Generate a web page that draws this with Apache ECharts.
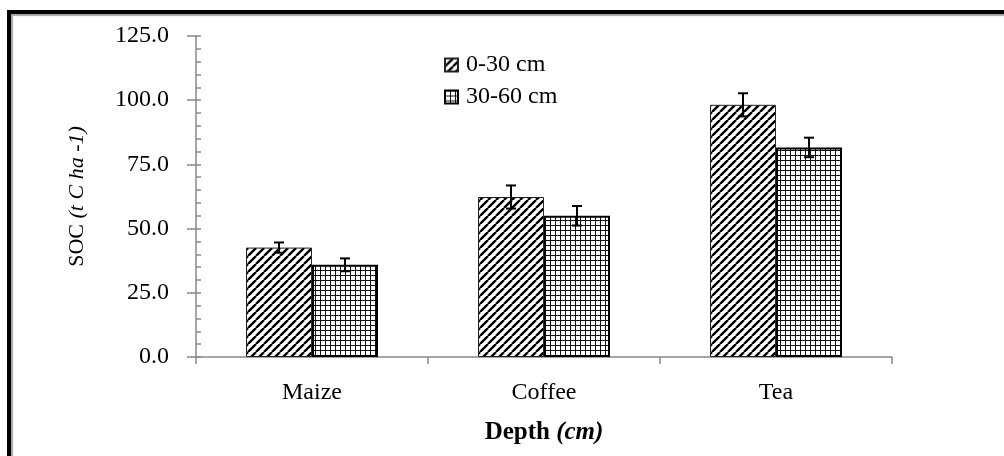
<!DOCTYPE html>
<html>
<head>
<meta charset="utf-8">
<script src="https://cdn.jsdelivr.net/npm/echarts@6/dist/echarts.min.js"></script>
<style>html,body{margin:0;padding:0;background:#fff}#c{width:1004px;height:456px}</style>
</head>
<body>
<div id="c"></div>
<script>
const categories = ['Maize', 'Coffee', 'Tea'];
const seriesNames = ['0-30 cm', '30-60 cm'];
const depth030 = [42.6, 62.3, 98.2];
const depth3060 = [35.9, 55.0, 81.6];
const err030 = [2.0, 4.5, 4.5];
const err3060 = [2.5, 3.8, 3.8];
const yMin = 0, yMax = 125, yInterval = 25;

function hatchPattern() {
  const s = 8;
  const c = document.createElement('canvas');
  c.width = s; c.height = s;
  const g = c.getContext('2d');
  g.fillStyle = '#fff'; g.fillRect(0, 0, s, s);
  g.strokeStyle = '#000'; g.lineWidth = 2.4;
  for (const o of [-s, 0, s]) {
    g.beginPath(); g.moveTo(o, s); g.lineTo(o + s, 0); g.stroke();
  }
  return c;
}
function gridPattern() {
  const s = 5;
  const c = document.createElement('canvas');
  c.width = s; c.height = s;
  const g = c.getContext('2d');
  g.fillStyle = '#fff'; g.fillRect(0, 0, s, s);
  g.fillStyle = '#111';
  g.fillRect(0, 0, s, 1);
  g.fillRect(0, 0, 1, s);
  return c;
}
const hatch = { image: hatchPattern(), repeat: 'repeat' };
const grid = { image: gridPattern(), repeat: 'repeat' };
const FONT = '"Liberation Serif", "Times New Roman", serif';
const BAR_W = 66;

function errorSeries(vals, errs, sign) {
  return {
    type: 'custom',
    z: 10,
    silent: true,
    data: categories.map((c, i) => [i, vals[i], errs[i]]),
    renderItem: function (params, api) {
      const i = api.value(0), v = api.value(1), e = api.value(2);
      const hi = api.coord([i, v + e]);
      const lo = api.coord([i, v - e]);
      const x = hi[0] + sign * BAR_W / 2;
      const st = { stroke: '#000', lineWidth: 2 };
      return {
        type: 'group',
        children: [
          { type: 'line', shape: { x1: x, y1: hi[1], x2: x, y2: lo[1] }, style: st },
          { type: 'line', shape: { x1: x - 5, y1: hi[1], x2: x + 5, y2: hi[1] }, style: st },
          { type: 'line', shape: { x1: x - 5, y1: lo[1], x2: x + 5, y2: lo[1] }, style: st }
        ]
      };
    }
  };
}

const chart = echarts.init(document.getElementById('c'), null, { renderer: 'canvas' });
chart.setOption({
  animation: false,
  backgroundColor: '#fff',
  textStyle: { fontFamily: FONT, color: '#000' },
  graphic: [{
    type: 'rect',
    shape: { x: 9, y: 12, width: 1010, height: 470 },
    style: { fill: 'none', stroke: '#000', lineWidth: 4, shadowColor: 'rgba(0,0,0,0.35)', shadowOffsetX: 2, shadowOffsetY: 2, shadowBlur: 1 },
    z: 100
  }],
  grid: { left: 196, right: 112, top: 36, bottom: 99 },
  legend: {
    orient: 'vertical',
    left: 439,
    top: 48,
    itemWidth: 13,
    itemHeight: 13,
    itemGap: 8,
    icon: 'rect',
    data: seriesNames,
    textStyle: { fontFamily: FONT, fontSize: 24, color: '#000', padding: [0, 0, 0, 3] }
  },
  xAxis: {
    type: 'category',
    data: categories,
    axisLine: { lineStyle: { color: '#888', width: 1.5 } },
    axisTick: { show: true, length: 7, lineStyle: { color: '#888', width: 1.5 } },
    axisLabel: { fontFamily: FONT, fontSize: 24, color: '#000', margin: 24 },
    name: '{b|Depth }{bi|(cm)}',
    nameLocation: 'middle',
    nameGap: 63,
    nameTextStyle: {
      rich: {
        b: { fontFamily: FONT, fontSize: 25, fontWeight: 'bold', color: '#000' },
        bi: { fontFamily: FONT, fontSize: 25, fontWeight: 'bold', fontStyle: 'italic', color: '#000' }
      }
    }
  },
  yAxis: [{
    type: 'value',
    min: yMin, max: yMax, interval: yInterval,
    position: 'left',
    axisLine: { show: true, lineStyle: { color: '#888', width: 1.5 } },
    axisTick: { show: true, length: 9, lineStyle: { color: '#888', width: 1.5 } },
    splitLine: { show: false },
    axisLabel: { fontFamily: FONT, fontSize: 24, color: '#000', margin: 27, formatter: v => v.toFixed(1) },
    name: '{n|SOC }{i|(t C ha -1)}',
    nameLocation: 'middle',
    nameGap: 108,
    nameTextStyle: {
      rich: {
        n: { fontFamily: FONT, fontSize: 22, color: '#000' },
        i: { fontFamily: FONT, fontSize: 22, fontStyle: 'italic', color: '#000' }
      }
    }
  }, {
    type: 'value',
    min: yMin, max: yMax, interval: yInterval,
    position: 'left',
    offset: 0,
    axisLine: { show: false },
    axisTick: { show: true, inside: true, length: 5, lineStyle: { color: '#888', width: 1.5 } },
    minorTick: { show: true, splitNumber: 5, length: 5, lineStyle: { color: '#888', width: 1.5 } },
    splitLine: { show: false },
    axisLabel: { show: false }
  }],
  series: [{
    name: seriesNames[0],
    type: 'bar',
    data: depth030,
    barWidth: BAR_W,
    barGap: '0%',
    itemStyle: { color: hatch, borderColor: '#222', borderWidth: 1 }
  }, {
    name: seriesNames[1],
    type: 'bar',
    data: depth3060,
    barWidth: BAR_W,
    barGap: '0%',
    itemStyle: { color: grid, borderColor: '#000', borderWidth: 2 }
  },
  errorSeries(depth030, err030, -1),
  errorSeries(depth3060, err3060, 1)
  ]
});
</script>
</body>
</html>
